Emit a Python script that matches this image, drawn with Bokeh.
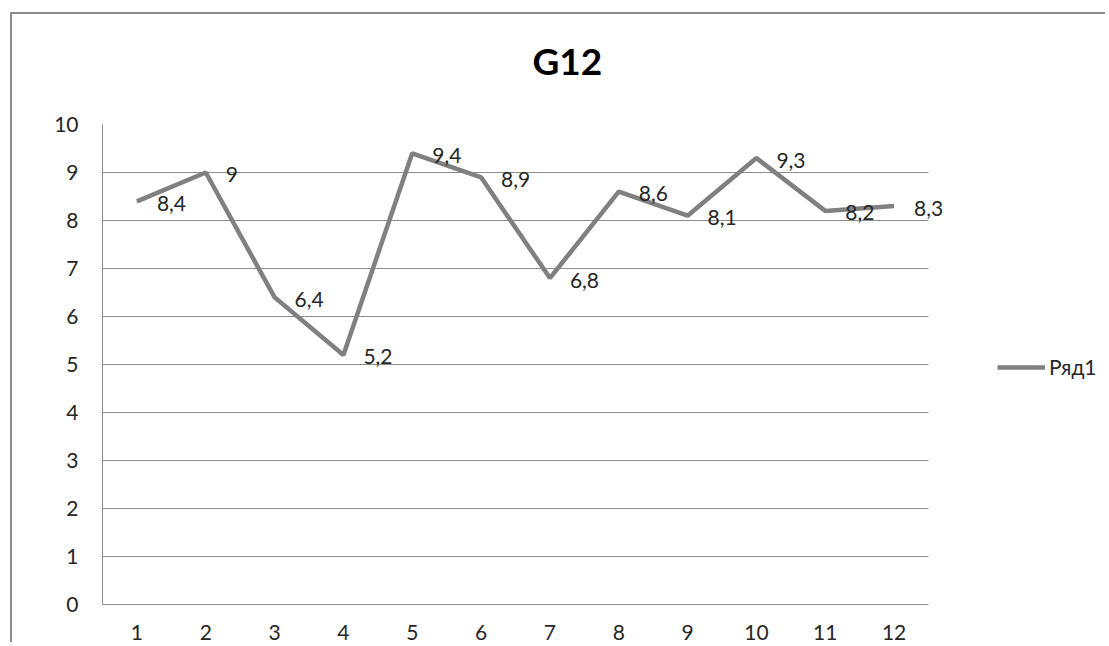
from bokeh.plotting import figure
from bokeh.models import ColumnDataSource, Legend, LegendItem, FixedTicker, Range1d, Title
from bokeh.core.properties import value
from bokeh.embed import file_html
from bokeh.resources import INLINE

categories = ["1", "2", "3", "4", "5", "6", "7", "8", "9", "10", "11", "12"]
values = [8.4, 9, 6.4, 5.2, 9.4, 8.9, 6.8, 8.6, 8.1, 9.3, 8.2, 8.3]
labels = [("%g" % v).replace(".", ",") for v in values]
y_ticks = [0, 1, 2, 3, 4, 5, 6, 7, 8, 9, 10]
series_name = "Ряд1"
title_text = "G12"

FONT = "Lato"
GRAY = "#808080"
GRID = "#8c8c8c"
TXT = "#262626"

n = len(categories)
xs = list(range(1, n + 1))

W, H = 1095, 630
MB_L, MB_R, MB_T, MB_B = 90, 0, 110, 40
PLOT_W = 826  # pixel width of the category area
px_per_unit = PLOT_W / n
frame_w = W - MB_L - MB_R
x_end = 0.5 + frame_w / px_per_unit

src = ColumnDataSource(dict(x=xs, y=values, lab=labels))

p = figure(width=W, height=H, x_range=Range1d(0.5, x_end),
           y_range=Range1d(0, 10), output_backend="svg", toolbar_location=None,
           min_border_left=MB_L, min_border_right=MB_R, min_border_top=MB_T,
           min_border_bottom=MB_B)

p.title.text = title_text
p.title.text_font = FONT
p.title.text_font_size = "37px"
p.title.text_font_style = "bold"
p.title.align = "left"
p.title.offset = 430
p.title.standoff = 0
p.title.text_color = "#000000"

# empty spacer between the title and the plot area
p.add_layout(Title(text=" ", text_font_size="1px", standoff=39), "above")

p.outline_line_color = None
p.background_fill_color = "white"
p.border_fill_color = "white"

p.yaxis.ticker = FixedTicker(ticks=y_ticks)
p.yaxis.major_tick_line_color = None
p.yaxis.minor_tick_line_color = None
p.yaxis.axis_line_color = GRID
p.yaxis.major_label_text_font = FONT
p.yaxis.major_label_text_font_size = "21px"
p.yaxis.major_label_text_color = TXT
p.yaxis.major_label_standoff = 18

p.xaxis.ticker = FixedTicker(ticks=xs)
p.xaxis.major_label_overrides = {x: c for x, c in zip(xs, categories)}
p.xaxis.bounds = (0.5, n + 0.5)
p.xaxis.major_tick_line_color = None
p.xaxis.minor_tick_line_color = None
p.xaxis.axis_line_color = GRID
p.xaxis.major_label_text_font = FONT
p.xaxis.major_label_text_font_size = "21px"
p.xaxis.major_label_text_color = TXT
p.xaxis.major_label_standoff = 14

p.xgrid.grid_line_color = None
yg = p.ygrid[0]
if "cross_bounds" in yg.properties():
    yg.grid_line_color = GRID
    yg.cross_bounds = (0.5, n + 0.5)
else:
    yg.grid_line_color = None
    p.segment(x0=[0.5] * len(y_ticks), x1=[n + 0.5] * len(y_ticks),
              y0=y_ticks, y1=y_ticks, line_color=GRID, line_width=1)

line = p.line("x", "y", source=src, line_color=GRAY, line_width=4.5)

p.text("x", "y", text="lab", source=src, x_offset=20, y_offset=2,
       text_font=value(FONT), text_font_size="21px", text_color=TXT,
       text_align="left", text_baseline="middle")

legend = Legend(items=[LegendItem(label=series_name, renderers=[line])],
                location=(895, 225), orientation="vertical",
                border_line_color=None, background_fill_alpha=0,
                padding=0, margin=0, glyph_width=48, glyph_height=20,
                label_height=20, label_standoff=4, spacing=0,
                label_text_font=FONT, label_text_font_size="21px",
                label_text_color=TXT)
p.add_layout(legend, "center")

p.styles = {"border-left": "2px solid #8a8a8a", "border-top": "2px solid #8a8a8a",
            "margin-left": "10px", "margin-top": "12px"}

open("out.html", "w").write(file_html(p, INLINE))
